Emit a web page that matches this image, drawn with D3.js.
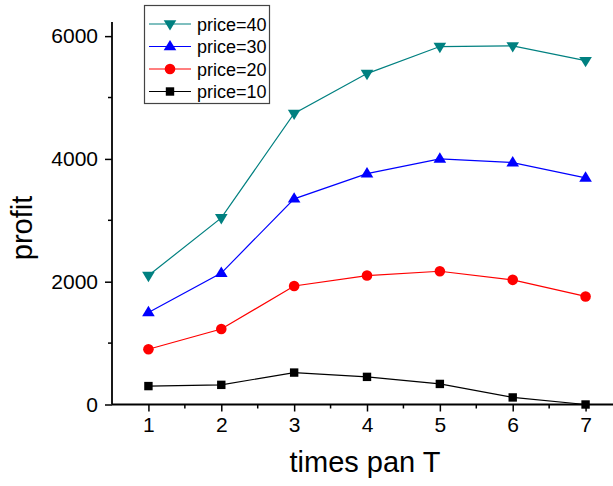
<!DOCTYPE html>
<html>
<head>
<meta charset="utf-8">
<script src="https://cdn.jsdelivr.net/npm/d3@7"></script>
<style>
	body { margin: 0; background: #fff; }
	text { font-family: Arial, "Liberation Sans", sans-serif; fill: #000; }
</style>
</head>
<body>
<svg id="chart" width="613" height="486"></svg>
<script>
const times = [1, 2, 3, 4, 5, 6, 7];
const price40 = [2100, 3040, 4740, 5390, 5830, 5840, 5600];
const price30 = [1500, 2140, 3350, 3760, 4000, 3940, 3690];
const price20 = [900, 1230, 1930, 2100, 2170, 2030, 1760];
const price10 = [300, 320, 520, 450, 335, 115, 0];
const yTicks = [0, 2000, 4000, 6000];
const yMinor = [1000, 3000, 5000];
const xMinor = [1.5, 2.5, 3.5, 4.5, 5.5, 6.5];

// legend order is top to bottom
const series = [
	{name: "price=40", values: price40, color: "#008080", symbol: "down"},
	{name: "price=30", values: price30, color: "#0000ff", symbol: "up"},
	{name: "price=20", values: price20, color: "#ff0000", symbol: "circle"},
	{name: "price=10", values: price10, color: "#000000", symbol: "square"}
];

const svg = d3.select("#chart");

const x = d3.scaleLinear().domain([0.5, 7.5]).range([112, 622]);
const y = d3.scaleLinear().domain([0, 6230]).range([404.5, 22]);

/**
 * [Draws a marker of the given symbol centered at (cx, cy)]
 */
function drawMarker(g, symbol, cx, cy, color) {
	if (symbol === "circle") {
		g.append("circle").attr("cx", cx).attr("cy", cy).attr("r", 5.3).style("fill", color);
	} else if (symbol === "square") {
		g.append("rect").attr("x", cx - 4.2).attr("y", cy - 4.2)
			.attr("width", 8.4).attr("height", 8.4).style("fill", color);
	} else {
		let s = 6.3;
		let pts = symbol === "up"
			? [[cx - s, cy + s * 0.6], [cx + s, cy + s * 0.6], [cx, cy - s * 1.05]]
			: [[cx - s, cy - s * 0.6], [cx + s, cy - s * 0.6], [cx, cy + s * 1.05]];
		g.append("polygon").attr("points", pts.map(p => p.join(",")).join(" ")).style("fill", color);
	}
}

// axes
const xAxis = svg.append("g").attr("transform", "translate(0," + y(0) + ")");
xAxis.call(d3.axisBottom(x).tickValues(times).tickSize(7).tickPadding(6).tickFormat(d3.format("d")));
xAxis.append("g").selectAll("line").data(xMinor).enter().append("line")
	.attr("x1", d => x(d)).attr("x2", d => x(d)).attr("y1", 0).attr("y2", 4)
	.style("stroke", "#000").style("stroke-width", 1.5);

const yAxis = svg.append("g").attr("transform", "translate(" + x(0.5) + ",0)");
yAxis.call(d3.axisLeft(y).tickValues(yTicks).tickSize(7).tickPadding(7).tickFormat(d3.format("d")));
yAxis.append("g").selectAll("line").data(yMinor).enter().append("line")
	.attr("y1", d => y(d)).attr("y2", d => y(d)).attr("x1", 0).attr("x2", -4)
	.style("stroke", "#000").style("stroke-width", 1.5);

svg.selectAll(".domain").style("stroke", "#000").style("stroke-width", 1.8);
svg.selectAll(".tick line").style("stroke", "#000").style("stroke-width", 1.5);
svg.selectAll(".tick text").style("font-size", "21px").style("font-family", "Arial, 'Liberation Sans', sans-serif");
xAxis.select(".domain").attr("d", "M" + x(0.5) + ",0H" + x(7.5));
yAxis.select(".domain").attr("d", "M0," + y(0) + "V" + y(6230));

// axis titles
svg.append("text")
	.attr("x", 365).attr("y", 472)
	.attr("text-anchor", "middle")
	.style("font-size", "29px")
	.text("times pan T");

svg.append("text")
	.attr("transform", "translate(32,228)rotate(-90)")
	.attr("text-anchor", "middle")
	.style("font-size", "29px")
	.text("profit");

// lines and markers
const line = d3.line().x((d, i) => x(times[i])).y(d => y(d));

series.forEach(s => {
	let g = svg.append("g");
	g.append("path")
		.attr("d", line(s.values))
		.style("fill", "none")
		.style("stroke", s.color)
		.style("stroke-width", 1.2);
	s.values.forEach((v, i) => drawMarker(g, s.symbol, x(times[i]), y(v), s.color));
});

// legend
const legend = svg.append("g");
legend.append("rect")
	.attr("x", 144.5).attr("y", 5.5).attr("width", 125).attr("height", 98)
	.style("fill", "#fff").style("stroke", "#444").style("stroke-width", 1.2);

series.forEach((s, i) => {
	let cy = 24 + i * 22.5;
	legend.append("line")
		.attr("x1", 149).attr("x2", 191).attr("y1", cy).attr("y2", cy)
		.style("stroke", s.color).style("stroke-width", 1.2);
	drawMarker(legend, s.symbol, 170, cy, s.color);
	legend.append("text")
		.attr("x", 197).attr("y", cy + 6.5)
		.style("font-size", "18px")
		.text(s.name);
});
</script>
</body>
</html>
